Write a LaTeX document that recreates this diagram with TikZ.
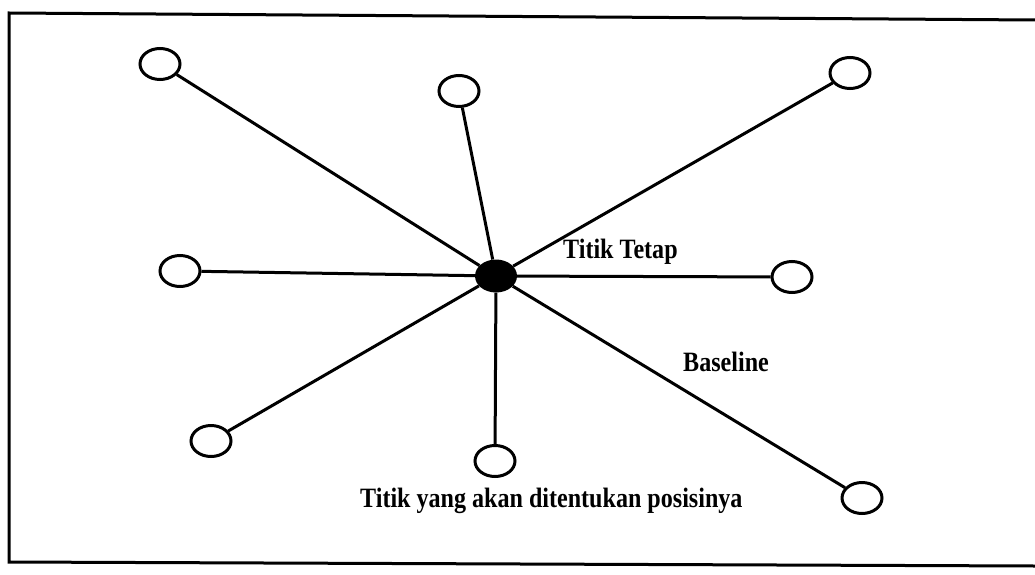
\documentclass[tikz,border=0pt]{standalone}
\usepackage{fontspec}
\usetikzlibrary{shapes.geometric}
\newfontfamily\lblfont[FakeStretch=0.86]{Liberation Serif}
\begin{document}
\begin{tikzpicture}[x=1pt,y=-1pt,
  pt/.style={draw=black,line width=3pt,fill=white,ellipse,minimum width=40pt,minimum height=31pt,inner sep=0pt},
  hub/.style={fill=black,ellipse,minimum width=42pt,minimum height=33pt,inner sep=0pt},
  spoke/.style={line width=3pt},
  lbl/.style={inner sep=0pt,anchor=base west,font=\lblfont\bfseries\fontsize{28}{30}\selectfont}]
\useasboundingbox (0,0) rectangle (1035,575);
\draw[line width=3pt] (1035,20) -- (9,13) -- (9,562) -- (1035,566);
\node[hub] (c) at (496,276) {};
\node[pt] (tl) at (160,64) {};
\node[pt] (tm) at (459,91) {};
\node[pt] (tr) at (850,73) {};
\node[pt] (l) at (180,271) {};
\node[pt] (r) at (792,277) {};
\node[pt] (bl) at (211,441) {};
\node[pt] (bm) at (495,461) {};
\node[pt] (br) at (862,498) {};
\foreach \n in {tl,tm,tr,l,r,bl,bm,br} \draw[spoke] (c) -- (\n);
\node[lbl] (t1) at (563,258) {Titik Tetap};
\node[lbl] (t2) at (683,371) {Baseline};
\node[lbl] (t3) at (360,507) {Titik yang akan ditentukan posisinya};
\end{tikzpicture}
\end{document}
